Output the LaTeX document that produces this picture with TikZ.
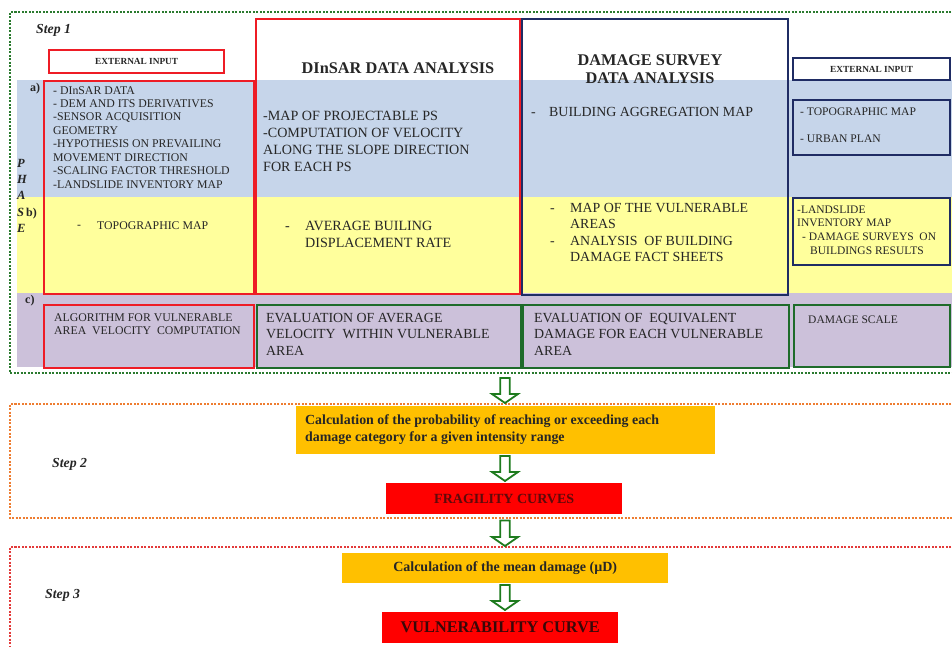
\documentclass[tikz,border=0pt]{standalone}
\usepackage{fontspec}
\setmainfont{Liberation Serif}
\usetikzlibrary{calc}

\definecolor{bandblue}{HTML}{C6D5EA}
\definecolor{bandyellow}{HTML}{FFFF9C}
\definecolor{bandpurple}{HTML}{CCC1DA}
\definecolor{boxred}{HTML}{EE1C25}
\definecolor{boxnavy}{HTML}{1F2C64}
\definecolor{boxgreen}{HTML}{1E6B2A}
\definecolor{framegreen}{HTML}{2A7A2E}
\definecolor{frameorange}{HTML}{EE7D31}
\definecolor{framered}{HTML}{E33A3A}
\definecolor{calcorange}{HTML}{FFC000}
\definecolor{curvered}{HTML}{FF0000}
\definecolor{ink}{HTML}{262626}
\definecolor{fragink}{HTML}{5E0A0A}
\definecolor{vulnink}{HTML}{3A0808}
\definecolor{arrowgreen}{HTML}{1E7B1E}

% font sizes (pt)
\newcommand\fsSmall{\fontsize{11.8}{13.45}\selectfont}
\newcommand\fsMid{\fontsize{14.1}{17}\selectfont}
\newcommand\fsMidB{\fontsize{13.9}{16.2}\selectfont}
\newcommand\fsTitle{\bfseries\fontsize{16.3}{18}\selectfont}
\newcommand\fsStep{\bfseries\itshape\fontsize{13.8}{16}\selectfont}

% hollow downward block arrow between two named points
\newcommand\hollowdown[2]{%
  \draw[hollow] ($(#1)+(-4.7,0)$) -- ($(#2)+(-4.7,-9)$) -- ($(#2)+(-13,-9)$)
    -- (#2) -- ($(#2)+(13,-9)$) -- ($(#2)+(4.7,-9)$) -- ($(#1)+(4.7,0)$) -- cycle;}

\begin{document}
\begin{tikzpicture}[x=1pt,y=-1pt,
  frame/.style={line width=2.4pt, dash pattern=on 2pt off 1.5pt},
  box/.style={inner sep=0, anchor=north west, line width=2.4pt, text=ink},
  redbox/.style={box, draw=boxred},
  navybox/.style={box, draw=boxnavy},
  greenbox/.style={box, draw=boxgreen},
  txt/.style={inner sep=0, anchor=north west, align=left, text=ink},
  lbl/.style={inner sep=0, anchor=base west, text=ink},
  hollow/.style={draw=arrowgreen, line width=1.8pt, fill=white, line join=miter},
  calcbox/.style={inner sep=0, anchor=north west, fill=calcorange, text=ink},
  curvebox/.style={inner sep=0, anchor=north west, fill=curvered,
    font=\bfseries\fontsize{14}{16}\selectfont},
]
\useasboundingbox (0,0) rectangle (952,646);
\clip (0,0) rectangle (952,646);

% ---------- step frames ----------
\draw[frame, draw=framegreen] (958,12) -- (10,12) -- (10,373) -- (958,373);
\draw[frame, draw=frameorange] (958,404) -- (10,404) -- (10,518) -- (958,518);
\draw[frame, draw=framered] (958,547) -- (10,547) -- (10,660);

% ---------- phase bands ----------
\fill[bandblue] (17,80) rectangle (958,197);
\fill[bandyellow] (17,197) rectangle (958,293);
\fill[bandpurple] (17,293) rectangle (958,367);

% ---------- step 1 boxes ----------
\node[redbox, minimum width=175, minimum height=23,
      font=\bfseries\fontsize{9.3}{11}\selectfont] (extL) at (48,49) {EXTERNAL INPUT};
\node[redbox, minimum width=210, minimum height=213] (inL) at (43,80) {};
\node[redbox, minimum width=210, minimum height=63] (algL) at (43,304) {};

\node[redbox, minimum width=264, minimum height=275] (dinsar) at (255,18) {};
\node[greenbox, minimum width=264, minimum height=63] (evalV) at (256,304) {};

\node[navybox, minimum width=266, minimum height=276] (damage) at (521,18) {};
\node[greenbox, minimum width=266, minimum height=63] (evalD) at (522,304) {};

\node[navybox, minimum width=157, minimum height=22,
      font=\bfseries\fontsize{9.3}{11}\selectfont] (extR) at (792,57) {EXTERNAL INPUT};
\node[navybox, minimum width=157, minimum height=55] (inRa) at (792,99) {};
\node[navybox, minimum width=157, minimum height=67] (inRb) at (792,197) {};
\node[greenbox, minimum width=156, minimum height=62] (scaleR) at (793,304) {};

% ---------- step labels and phase letters ----------
\node[lbl, font=\fsStep] (st1) at (36,33) {Step 1};
\node[lbl, font=\fsStep] (st2) at (52,467) {Step 2};
\node[lbl, font=\fsStep] (st3) at (45,598) {Step 3};

\begin{scope}[every node/.append style={lbl, font=\bfseries\itshape\fontsize{12.5}{14}\selectfont}]
  \node (phP) at (17,167) {P};
  \node (phH) at (17,183) {H};
  \node (phA) at (17,199) {A};
  \node (phS) at (17,216) {S};
  \node (phE) at (17,232) {E};
\end{scope}
\begin{scope}[every node/.append style={lbl, font=\bfseries\fontsize{12}{14}\selectfont}]
  \node (rowa) at (30,91) {a)};
  \node (rowb) at (26,216) {b)};
  \node (rowc) at (25,303) {c)};
\end{scope}

% ---------- external input (left) ----------
\node[txt, font=\fsSmall] (tInA) at (53,86) {- DInSAR DATA\\- DEM AND ITS DERIVATIVES\\-SENSOR ACQUISITION\\GEOMETRY\\-HYPOTHESIS ON PREVAILING\\MOVEMENT DIRECTION\\-SCALING FACTOR THRESHOLD\\-LANDSLIDE INVENTORY MAP};
\node[txt, font=\fsSmall] (dInB) at (77,221) {\vphantom{A}-};
\node[txt, font=\fsSmall] (tInB) at (97,221) {TOPOGRAPHIC MAP};
\node[txt, font=\fsSmall] (tAlg) at (54,313) {ALGORITHM FOR VULNERABLE\\AREA\ \ VELOCITY\ \ COMPUTATION};

% ---------- DInSAR data analysis ----------
\node[inner sep=0, text=ink, font=\fsTitle] (tDin) at (398,68) {DInSAR DATA ANALYSIS};
\node[txt, font=\fsMid] (tDinA) at (263,111.3) {-MAP OF PROJECTABLE PS\\-COMPUTATION OF VELOCITY\\ALONG THE SLOPE DIRECTION\\FOR EACH PS};
\node[txt, font=\fsMid] (dDinB) at (285,221.3) {\vphantom{A}-};
\node[txt, font=\fontsize{14.1}{16.5}\selectfont] (tDinB) at (305,221.3) {AVERAGE BUILING\\DISPLACEMENT RATE};
\node[txt, font=\fsMidB] (tEvalV) at (266,313.3) {EVALUATION OF AVERAGE\\VELOCITY\ \ WITHIN VULNERABLE\\AREA};

% ---------- damage survey data analysis ----------
\node[inner sep=0, text=ink, align=center, font=\fsTitle] (tDam) at (650,69) {DAMAGE SURVEY\\DATA ANALYSIS};
\node[txt, font=\fsMidB] (dDamA) at (531,107.3) {\vphantom{A}-};
\node[txt, font=\fsMidB] (tDamA) at (549,107.3) {BUILDING AGGREGATION MAP};
\node[txt, font=\fsMidB] (dDamB1) at (550,203.3) {\vphantom{A}-};
\node[txt, font=\fsMidB] (dDamB2) at (550,235.7) {\vphantom{A}-};
\node[txt, font=\fsMidB] (tDamB) at (570,203.3) {MAP OF THE VULNERABLE\\AREAS\\ANALYSIS\ \ OF BUILDING\\DAMAGE FACT SHEETS};
\node[txt, font=\fsMidB] (tEvalD) at (534,313.3) {EVALUATION OF\ \ EQUIVALENT\\DAMAGE FOR EACH VULNERABLE\\AREA};

% ---------- external input (right) ----------
\node[txt, font=\fontsize{11.6}{27}\selectfont] (tInRa) at (800,108) {- TOPOGRAPHIC MAP\\- URBAN PLAN};
\node[txt, font=\fontsize{11.5}{13.6}\selectfont] (tInRb) at (797,205.5) {-LANDSLIDE\\INVENTORY MAP\\\hspace*{5pt}- DAMAGE SURVEYS\ \ ON\\\hspace*{13pt}BUILDINGS RESULTS};
\node[txt, font=\fontsize{11.5}{13.6}\selectfont] (tScale) at (808,316) {DAMAGE SCALE};

% ---------- step 2 and step 3 ----------
\node[calcbox, minimum width=419, minimum height=48] (prob) at (296,406) {};
\node[txt, font=\bfseries\fontsize{13.9}{17}\selectfont] (tProb) at (305,414.4) {Calculation of the probability of reaching or exceeding each\\damage category for a given intensity range};
\node[curvebox, minimum width=236, minimum height=31, text=fragink] (frag) at (386,483) {FRAGILITY CURVES};

\node[calcbox, minimum width=326, minimum height=30,
      font=\bfseries\fontsize{14}{16}\selectfont] (mean) at (342,553) {Calculation of the mean damage (µD)};
\node[curvebox, minimum width=236, minimum height=31, text=vulnink,
      font=\bfseries\fontsize{16.3}{18}\selectfont] (vuln) at (382,612) {VULNERABILITY CURVE};

% ---------- flow arrows ----------
\coordinate (ax) at (505,0);
\coordinate (a1top) at (505,378);
\coordinate (a1tip) at ($(ax |- prob.north)+(0,-3)$);
\coordinate (a2top) at ($(ax |- prob.south)+(0,1.5)$);
\coordinate (a2tip) at ($(ax |- frag.north)+(0,-2)$);
\coordinate (a3top) at (505,520.5);
\coordinate (a3tip) at ($(ax |- mean.north)+(0,-7)$);
\coordinate (a4top) at ($(ax |- mean.south)+(0,1.5)$);
\coordinate (a4tip) at ($(ax |- vuln.north)+(0,-2)$);
\hollowdown{a1top}{a1tip}
\hollowdown{a2top}{a2tip}
\hollowdown{a3top}{a3tip}
\hollowdown{a4top}{a4tip}
\end{tikzpicture}
\end{document}
